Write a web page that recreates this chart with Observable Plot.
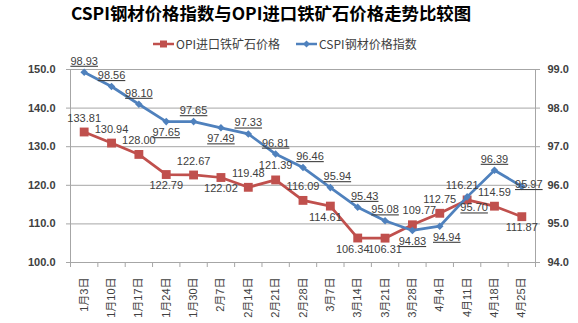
<!DOCTYPE html>
<html><head><meta charset="utf-8">
<script src="https://cdn.jsdelivr.net/npm/d3@7"></script>
<script src="https://cdn.jsdelivr.net/npm/@observablehq/plot@0.6"></script>
<style>
body{margin:0;background:#fff;font-family:"Liberation Sans","Noto Sans CJK SC",sans-serif;}
#wrap{position:relative;width:578px;}
#head{position:relative;width:578px;height:55px;}
#title{position:absolute;left:0;width:542px;top:1px;text-align:center;font-family:"Noto Sans CJK SC",sans-serif;font-weight:bold;font-size:17.4px;color:#000;line-height:24px;}
#legend{position:absolute;top:36px;left:153px;font-family:"Noto Sans CJK SC",sans-serif;font-size:12px;color:#404040;display:flex;align-items:center;white-space:nowrap;line-height:16px;}
#legend span.item{display:flex;align-items:center;margin-right:16px;}
#legend svg{margin-right:1px;}
</style></head>
<body>
<div id="wrap">
<div id="head">
<div id="title">CSPI钢材价格指数与OPI进口铁矿石价格走势比较图</div>
<div id="legend"></div>
</div>
<div id="chart"></div>
</div>
<script>
const dates = ["1月3日","1月10日","1月17日","1月24日","1月30日","2月7日","2月14日","2月21日","2月28日","3月7日","3月14日","3月21日","3月28日","4月4日","4月11日","4月18日","4月25日"];
const opiValues = [133.81,130.94,128.00,122.79,122.67,122.02,119.48,121.39,116.09,114.61,106.34,106.31,109.77,112.75,116.21,114.59,111.87];
const cspiValues = [98.93,98.56,98.10,97.65,97.65,97.49,97.33,96.81,96.46,95.94,95.43,95.08,94.83,94.94,95.70,96.39,95.97];
const leftTicks = [100,110,120,130,140,150];
const rightTicks = [94,95,96,97,98,99];
const seriesNames = ["OPI进口铁矿石价格","CSPI钢材价格指数"];
// label placement: a = above, b = below, c = on point; + / - = nudged right / left
const opiLabelSide = ["a","a","a","b","a","b","a","a","a","b-","b-","b","a+","a","a-","a","b"];
const cspiLabelSide = ["a","a","a","b","a","b","a","a","a+","a+","a+","a","b","b+","b+","a","c+"];

const red = "#C0504D", blue = "#4F81BD";
// map right axis (94..99) onto left axis (100..150)
const toLeft = v => 100 + (v - 94) * 10;
const toRight = v => 94 + (v - 100) / 10;

const opi = opiValues.map((v,i)=>({i, v, label: v.toFixed(2), side: opiLabelSide[i]}));
const cspi = cspiValues.map((v,i)=>({i, v: toLeft(v), label: v.toFixed(2), side: cspiLabelSide[i]}));
const idx = dates.map((d,i)=>i);
const bounds = d3.range(dates.length+1).map(i=>i-0.5);

// legend
const legend = document.getElementById("legend");
[[red,"square"],[blue,"diamond"]].forEach(([c,s],k)=>{
  const item = document.createElement("span"); item.className="item";
  const mk = s==="square" ? `<rect x="7" y="2.5" width="7" height="7" fill="${c}"/>` : `<path d="M10.5 2.5 L14 6 L10.5 9.5 L7 6 Z" fill="${c}"/>`;
  item.innerHTML = `<svg width="22" height="12"><line x1="0" y1="6" x2="21" y2="6" stroke="${c}" stroke-width="2.5"/>${mk}</svg><span>${seriesNames[k]}</span>`;
  legend.appendChild(item);
});

const txt = {fontSize: 11, fill: "#404040"};
const offs = {a: -11, b: 11, c: -2};
function labels(data, aboveDy, tag) {
  const out = [];
  for (const base of ["a","b","c"]) {
    for (const [suf, dx] of [["",0],["+",7],["-",-5]]) {
      const code = base + suf;
      if (!data.some(d=>d.side===code)) continue;
      const dy = base === "a" ? aboveDy : offs[base];
      out.push(Plot.text(data, {filter: d=>d.side===code, x: "i", y: "v", text: "label", dx, dy, ariaDescription: tag, ...txt}));
    }
  }
  return out;
}

const chart = Plot.plot({
  width: 578, height: 268,
  marginTop: 14, marginBottom: 61, marginLeft: 70, marginRight: 43,
  style: {fontFamily: '"Liberation Sans","Noto Sans CJK SC",sans-serif', fontSize: "11px", color: "#404040", background: "#fff"},
  x: {type: "linear", domain: [-0.5, dates.length - 0.5]},
  y: {domain: [100, 150]},
  marks: [
    Plot.ruleY(leftTicks.filter(t=>t>100), {stroke: "#a6a6a6", strokeWidth: 1}),
    Plot.axisY({ticks: leftTicks, tickFormat: d=>d.toFixed(1), tickSize: 4, tickPadding: 11, fontWeight: "bold", fill: "#404040", stroke: "#a6a6a6", label: null}),
    Plot.axisY({anchor: "right", ticks: rightTicks.map(toLeft), tickFormat: d=>toRight(d).toFixed(1), tickSize: 4, tickPadding: 8, fontWeight: "bold", fill: "#404040", stroke: "#a6a6a6", label: null}),
    Plot.axisX({ticks: bounds, tickFormat: ()=>"", tickSize: 5, stroke: "#a6a6a6", label: null}),
    Plot.axisX({ticks: idx, tickFormat: i=>dates[i], tickSize: 0, tickPadding: 15, tickRotate: -90, fill: "#404040", label: null, fontSize: 11}),
    Plot.ruleX([-0.5, dates.length - 0.5], {stroke: "#a6a6a6"}),
    Plot.ruleY([100], {stroke: "#a6a6a6"}),
    Plot.line(opi, {x: "i", y: "v", stroke: red, strokeWidth: 2.75}),
    Plot.dot(opi, {x: "i", y: "v", symbol: "square", r: 5, fill: red, stroke: "none"}),
    Plot.line(cspi, {x: "i", y: "v", stroke: blue, strokeWidth: 2.75}),
    Plot.dot(cspi, {x: "i", y: "v", symbol: "diamond2", r: 3.4, fill: blue, stroke: "none"}),
    ...labels(opi, -14, "opi-label"),
    ...labels(cspi, -11, "cspi-label")
  ]
});
chart.querySelectorAll('g[aria-description="cspi-label"] text').forEach(t=>{t.setAttribute("text-decoration","underline"); t.style.textDecoration="underline";});
document.getElementById("chart").appendChild(chart);
</script>
</body></html>
